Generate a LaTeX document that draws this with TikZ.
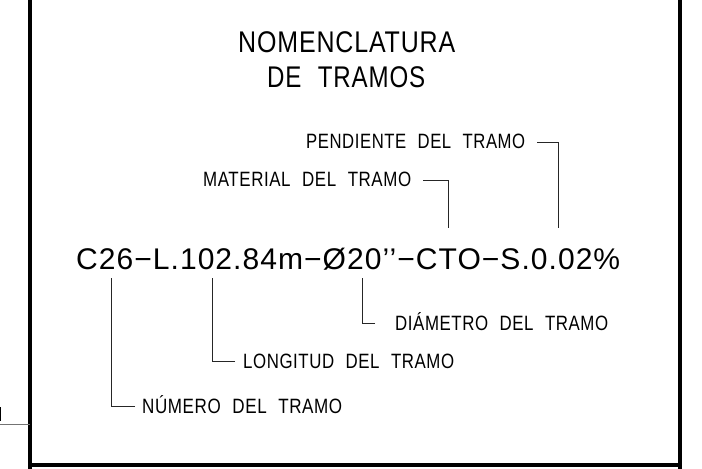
\documentclass[tikz,border=0pt]{standalone}
\usepackage{fontspec}
\usepackage{graphicx}
\newfontfamily\cad[FakeStretch=0.88,LetterSpace=3]{Liberation Sans}
\newcommand{\ws}{\hspace{0.6em}}
\newcommand{\fitw}[2]{\resizebox{#1bp}{\height}{#2}}
\begin{document}
\begin{tikzpicture}[x=1bp,y=-1bp,
  frameline/.style={line width=3.6bp, black},
  conn/.style={line width=0.9bp, black!85},
  thinline/.style={line width=1bp, black!55},
  lbl/.style={anchor=base west, inner sep=0pt, font=\cad\fontsize{20.8}{22}\selectfont},
  big/.style={anchor=base west, inner sep=0pt, font=\cad\fontsize{30}{32}\selectfont}]
\useasboundingbox (0,0) rectangle (702,469);
\fill[white] (0,0) rectangle (702,469);
% frame
\draw[frameline] (30,-5) -- (30,475);
\draw[frameline] (680,-5) -- (680,475);
\draw[frameline] (30,465) -- (680,465);
\draw[thinline] (-2,424) -- (30,424);
\draw[line width=1.6bp] (0.6,407) -- (0.6,421);
% title
\node[big] (t1) at (238,53) {\fitw{217}{NOMENCLATURA}};
\node[big] (t2) at (267,88) {\fitw{158}{DE\ws TRAMOS}};
% main code
\node[big] (code) at (76,270) {\fitw{544}{C26−L.102.84m−Ø20’’−CTO−S.0.02\%}};
% labels
\node[lbl] (pend) at (306,149) {\fitw{219}{PENDIENTE\ws DEL\ws TRAMO}};
\node[lbl] (mat) at (203,187) {\fitw{208}{MATERIAL\ws DEL\ws TRAMO}};
\node[lbl] (diam) at (395,331) {\fitw{213}{DIÁMETRO\ws DEL\ws TRAMO}};
\node[lbl] (long) at (243,368) {\fitw{211}{LONGITUD\ws DEL\ws TRAMO}};
\node[lbl] (num) at (142,413) {\fitw{200}{NÚMERO\ws DEL\ws TRAMO}};
% connector end points
\coordinate (pendA) at (537,142);
\coordinate (pendB) at (558,228);
\coordinate (matA) at (423,180);
\coordinate (matB) at (448,228);
\coordinate (diamA) at (375,323);
\coordinate (diamB) at (362,278);
\coordinate (longA) at (235,361);
\coordinate (longB) at (212,278);
\coordinate (numA) at (135,406);
\coordinate (numB) at (111,278);
\draw[conn] (pendA) -| (pendB);
\draw[conn] (matA) -| (matB);
\draw[conn] (diamA) -| (diamB);
\draw[conn] (longA) -| (longB);
\draw[conn] (numA) -| (numB);
\end{tikzpicture}
\end{document}
